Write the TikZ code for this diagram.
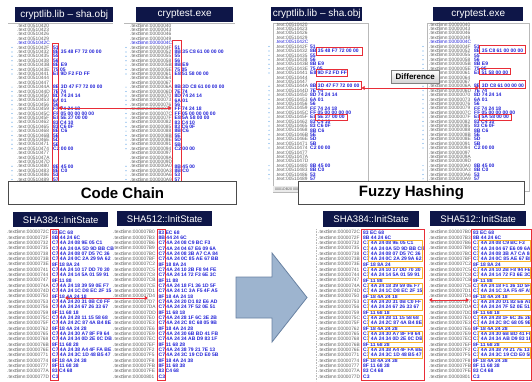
\documentclass[tikz,border=0pt]{standalone}
\usepackage{fontspec}
\setmainfont{Liberation Sans}
\usetikzlibrary{arrows.meta,fit}
\definecolor{navy}{RGB}{14,22,72}
\definecolor{addrgray}{RGB}{95,95,95}
\definecolor{byteblue}{RGB}{35,35,215}
\definecolor{redline}{RGB}{232,45,55}
\definecolor{orangeline}{RGB}{245,180,45}
\definecolor{arrowfill}{RGB}{157,180,207}
\definecolor{arrowdraw}{RGB}{105,130,162}
\definecolor{markblue}{RGB}{90,160,230}
\definecolor{panelgray}{RGB}{185,185,185}

\tikzset{
 titlebox/.style={fill=navy, text=white, font=\fontsize{10}{12}\selectfont, inner sep=0, anchor=north west},
 shatitle/.style={titlebox, font=\fontsize{9.5}{11}\selectfont},
 addr/.style={anchor=west, inner sep=0, text=addrgray, font=\fontsize{4.8}{5}\selectfont},
 hiaddr/.style={addr, text=byteblue},
 bytes/.style={anchor=west, inner sep=0, text=byteblue, font=\fontsize{5}{5}\selectfont\bfseries},
 redrect/.style={draw=redline, line width=0.9pt, inner sep=0},
 orect/.style={draw=orangeline, line width=0.9pt, inner sep=0},
 redarrow/.style={draw=redline, line width=1pt, {Triangle[length=3.2pt,width=3.8pt]}-{Triangle[length=3.2pt,width=3.8pt]}},
 bigbox/.style={draw=black!70, line width=0.9pt, fill=white, inner sep=0, anchor=north west, font=\bfseries\fontsize{15}{18}\selectfont},
 diffbox/.style={draw=gray, line width=0.5pt, top color=white, bottom color=black!18, inner sep=0, anchor=north west, font=\fontsize{8}{9}\selectfont\bfseries},
 panel/.style={draw=panelgray, line width=0.6pt},
}

% #1 name, #2 addr x, #3 bytes x, #4 y0, #5 pitch, #6 prefix, #7 base, #8 marker x or none, #9 rows
\newcommand\listing[9]{%
 \foreach \bt [count=\i from 0] in #9 {%
   \pgfmathparse{Hex(int(#7+3*\i))}\let\hx\pgfmathresult
   \ifnum\strcmp{#8}{none}=0
     \node[addr] (#1a\i) at (#2,#4+\i*#5) {#6\hx};
   \else
     \ifnum\i=4
       \node[hiaddr] (#1a\i) at (#2,#4+\i*#5) {#6\hx};
     \else
       \node[addr] (#1a\i) at (#2,#4+\i*#5) {#6\hx};
     \fi
   \fi
   \ifnum\strcmp{\bt}{x}=0
   \else
     \node[bytes] (#1b\i) at (#3,#4+\i*#5) {\bt};
     \ifnum\strcmp{#8}{none}=0 \else
       \fill[markblue] (#8,#4+\i*#5) circle (0.6);
     \fi
   \fi
 }}

\newcommand\mkbox[6]{%
 \path (#3,#4) coordinate (#1-nw) (#5,#6) coordinate (#1-se);
 \node[#2, fit=(#1-nw)(#1-se)] (#1) {};}

\def\libRows{x,x,x,x,x,51,8B 35 48 F7 72 00 00,55,56,8B E9,75 05,E8 9D F2 FD FF,x,x,8B 3D 47 F7 72 00 00,7E 74,8D 74 24 14,6A 01,56,FF 74 24 18,FF 05 00 00 00 00,E8 5E 27 00 00,83 C4 10,83 C6 0F,8B C6,5E,5D,5B,C2 00 00,x,x,x,8B 45 00,8B C0,53,57}
\def\exeRows{x,x,x,x,x,51,8B 35 C8 61 00 00 00,55,56,8B E9,75 05,E8 51 58 00 00,x,x,8B 3D C8 61 00 00 00,7E 74,8D 74 24 14,6A 01,56,FF 74 24 18,FF 05 00 00 00 00,E8 5A 58 00 00,83 C4 10,83 C6 0F,8B C6,5E,5D,5B,C2 00 00,x,x,x,8B 45 00,8B C0,53,57}
\def\shaA{83 EC 68,8B 44 24 6C,C7 4A 24 08 9E 05 C1,C7 4A 24 0A 5D 9D BB CB,C7 4A 24 08 07 D5 7C 36,C7 4A 24 0C 2A 29 9A 62,8F 18 8A 24,C7 4A 24 10 17 DD 70 30,C7 4A 24 14 5A 01 59 91,8F 11 88,C7 4A 24 18 39 59 0E F7,C7 4A 24 1C D8 EC 2F 15,8F 18 4A 24 18,C7 4A 24 20 31 0B C0 FF,C7 4A 24 24 67 26 33 67,8F 11 68 18,C7 4A 24 28 11 15 58 68,C7 4A 24 2C 87 4A B4 8E,8F 18 4A 24 28,C7 4A 24 30 A7 8F F9 64,C7 4A 24 34 0D 2E 0C DB,8F 11 68 28,C7 4A 24 38 A4 4F FA BE,C7 4A 24 3C 1D 48 B5 47,8F 18 4A 24 38,8F 11 68 38,83 C4 68,C3}
\def\shaB{83 EC 68,8B 44 24 6C,C7 4A 24 08 C9 BC F3,C7 4A 24 04 67 E6 09 6A,C7 4A 24 08 3B A7 CA 84,C7 4A 24 0C 85 AE 67 BB,8F 18 8A 24,C7 4A 24 10 2B F8 94 FE,C7 4A 24 14 72 F3 6E 3C,8F 11 88,C7 4A 24 18 F1 36 1D 5F,C7 4A 24 1C 3A F5 4F A5,8F 18 4A 24 18,C7 4A 24 20 D1 82 E6 AD,C7 4A 24 24 7F 52 0E 51,8F 11 68 18,C7 4A 24 28 1F 6C 3E 2B,C7 4A 24 2C 8C 68 05 9B,8F 18 4A 24 28,C7 4A 24 30 6B BD 41 FB,C7 4A 24 34 AB D9 83 1F,8F 11 68 28,C7 4A 24 38 79 21 7E 13,C7 4A 24 3C 19 CD E0 5B,8F 18 4A 24 38,8F 11 68 38,83 C4 68,C3}

\begin{document}
\begin{tikzpicture}[x=1pt,y=-1pt]
\useasboundingbox[fill=white] (0,0) rectangle (532,381);

% ---------- top left: code chain ----------
\draw[panel] (8,23.5) -- (113,23.5);
\draw[panel] (124,23.5) -- (235,23.5);
\listing{tlL}{17}{53}{25.5}{4.4}{.text:00510}{1056}{12}{\libRows}
\listing{tlR}{130}{174.5}{25.5}{4.4}{.text\$mn:000000}{64}{126}{\exeRows}
\mkbox{rA}{redrect}{52}{43}{58}{186}
\mkbox{rB}{redrect}{172}{40}{181}{186}
\coordinate (arA) at (rA.east |- 0,108);
\coordinate (arB) at (rB.west |- 0,108);
\draw[redarrow] (arA) -- (arB);
\node[titlebox, minimum width=98pt, minimum height=15pt] (t1) at (15,7) {cryptlib.lib – sha.obj};
\node[titlebox, minimum width=97pt, minimum height=15pt] (t2) at (136,7) {cryptest.exe};
\node[bigbox, minimum width=228pt, minimum height=23pt] (cc) at (8,181) {Code Chain};

% ---------- top right: fuzzy hashing ----------
\draw[panel] (273,23) rectangle (368,192);
\fill[black!8] (273.3,186) rectangle (367.7,191.7);
\node[addr, font=\fontsize{3.6}{4}\selectfont] (sb) at (275,188.8) {0001DB20 000};
\draw[panel] (427,23) rectangle (529,191);
\listing{trL}{275.5}{310}{24.5}{4.41}{.text:00510}{1056}{269}{\libRows}
\listing{trR}{429}{474}{24.5}{4.41}{.text\$mn:000000}{64}{423}{\exeRows}
\mkbox{f1}{redrect}{316}{47}{362}{55}
\mkbox{f2}{redrect}{316}{69}{347}{76}
\mkbox{f3}{redrect}{316}{81}{361}{89}
\mkbox{f4}{redrect}{315}{114}{347}{120}
\mkbox{g1}{redrect}{479}{45}{525}{53}
\mkbox{g2}{redrect}{479}{68}{510}{74}
\mkbox{g3}{redrect}{479}{80}{525}{88}
\mkbox{g4}{redrect}{479}{114}{511}{120}
\coordinate (dfA) at (f3.east |- 0,88);
\coordinate (dfB) at (g3.west |- 0,88);
\draw[redarrow] (dfA) -- (dfB);
\node[diffbox, minimum width=48pt, minimum height=13pt] (diff) at (391,70) {Difference};
\node[titlebox, minimum width=91pt, minimum height=14pt] (t3) at (271,7) {cryptlib.lib – sha.obj};
\node[titlebox, minimum width=90pt, minimum height=14pt] (t4) at (433,7) {cryptest.exe};
\node[bigbox, minimum width=226pt, minimum height=23pt] (fh) at (298,181) {Fuzzy Hashing};

% ---------- bottom left ----------
\listing{blL}{7}{52}{232.3}{5.34}{.text\$mn:00000}{1836}{none}{\shaA}
\listing{blR}{113}{158.5}{232.3}{5.34}{.text\$mn:00000}{1968}{none}{\shaB}
\mkbox{bA}{redrect}{50}{229}{58}{380}
\mkbox{bB}{redrect}{157}{229}{165}{380}
\coordinate (baA) at (65,298);
\coordinate (baB) at (148,298);
\draw[redarrow] (baA) -- (baB);
\node[shatitle, minimum width=95pt, minimum height=15pt] (t5) at (13,212) {SHA384::InitState};
\node[shatitle, minimum width=95pt, minimum height=15pt] (t6) at (117,211) {SHA512::InitState};

% ---------- big arrow ----------
\draw[fill=arrowfill, draw=arrowdraw, line width=0.8pt]
  (236,277) -- (272,277) -- (272,253) -- (307,297.5) -- (272,342) -- (272,318) -- (236,318) -- cycle;

% ---------- bottom right ----------
\draw[panelgray, densely dotted, line width=0.6pt] (316,229) -- (316,381);
\listing{brL}{318}{363}{232.3}{5.34}{.text\$mn:00000}{1836}{none}{\shaA}
\listing{brR}{429}{473}{232.3}{5.34}{.text\$mn:00000}{1968}{none}{\shaB}
\mkbox{cA}{redrect}{361}{229}{424}{380}
\mkbox{cB}{redrect}{471}{229}{531}{380}
\foreach \ya/\yb [count=\k] in {240.5/261.5, 267/278, 283/294, 299/310, 315/326, 331/342, 347/358} {
  \mkbox{oA\k}{orect}{368.5}{\ya}{422}{\yb}
  \mkbox{oB\k}{orect}{478.5}{\ya}{530}{\yb}
}
\coordinate (caA) at (429,300);
\coordinate (caB) at (469,300);
\draw[redarrow] (caA) -- (caB);
\node[shatitle, minimum width=96pt, minimum height=16pt] (t7) at (323,211) {SHA384::InitState};
\node[shatitle, minimum width=96pt, minimum height=15pt] (t8) at (430,211) {SHA512::InitState};
\end{tikzpicture}
\end{document}
